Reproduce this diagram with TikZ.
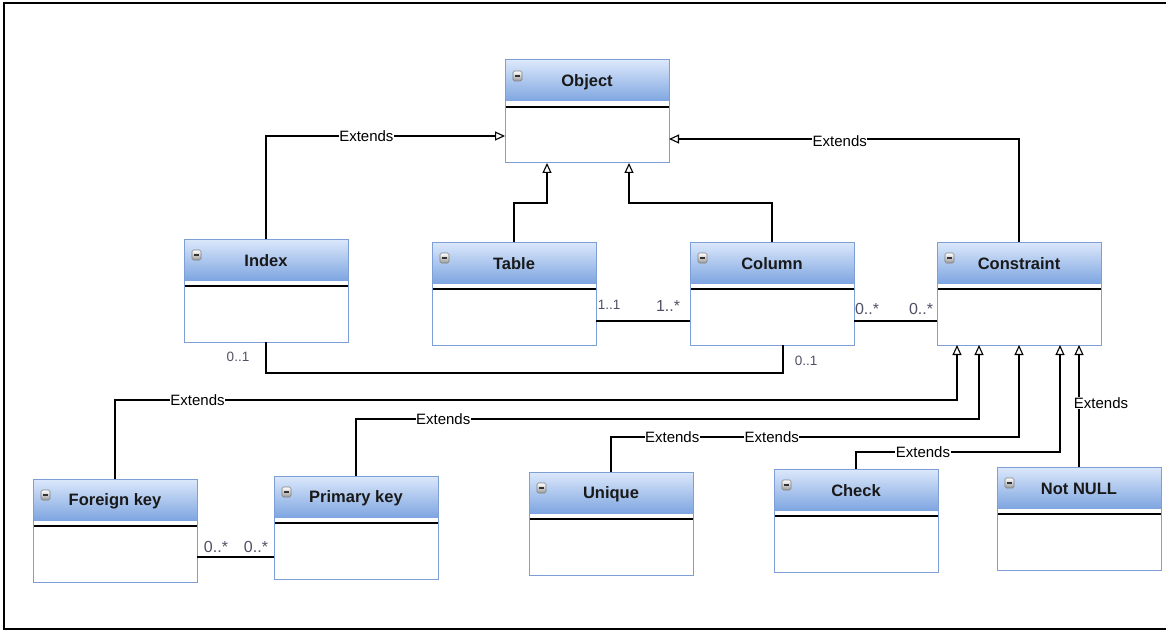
\documentclass[tikz,border=0pt]{standalone}
\usepackage{fontspec}
\setmainfont{Liberation Sans}
\usetikzlibrary{arrows.meta,calc}

\definecolor{headtop}{HTML}{DCE8FB}
\definecolor{headbot}{HTML}{7FA6E1}
\definecolor{boxblue}{HTML}{7E9FD6}
\definecolor{multgray}{HTML}{505064}

% one class box: name, left, top, title
\newcommand{\umlclass}[4]{%
  \shade[top color=headtop, bottom color=headbot] (#2,#3) rectangle ++(164,41);
  \draw[line width=1.5pt] (#2,#3+47) -- ++(164,0);
  \shadedraw[minusbox] (#2+8,#3+11) rectangle ++(9,10);
  \draw[line width=1.6pt, black!80] (#2+10,#3+16) -- ++(5,0);
  \node[classbox] (#1) at (#2,#3) {};
  \node[classtitle] (#1-t) at (#2+82,#3+22) {#4};
}

\begin{document}
\begin{tikzpicture}[x=1pt, y=-1pt,
    classbox/.style={draw=boxblue, line width=1pt, anchor=north west, minimum width=164pt, minimum height=103pt, inner sep=0pt, outer sep=0pt},
    classtitle/.style={font=\fontsize{16.5}{19}\selectfont\bfseries, text=black!90, inner sep=0pt},
    minusbox/.style={top color=white, bottom color=black!40, draw=black!50, line width=0.6pt, rounded corners=1.5pt},
    ext/.style={line width=1.1pt, -{Triangle[open, length=10pt, width=9pt]}},
    assoc/.style={line width=1.1pt},
    extlbl/.style={font=\fontsize{15}{18}\selectfont, fill=white, inner sep=0.5pt},
    mult/.style={font=\fontsize{16}{19}\selectfont, text=multgray, inner sep=0pt},
    multsm/.style={font=\fontsize{13.5}{16}\selectfont, text=multgray, inner sep=0pt}]
    \useasboundingbox (0,0) rectangle (1166,631);
    \draw[line width=2.5pt] (1166,3) -- (4,3) -- (4,629) -- (1166,629);

    \umlclass{object}{505}{60}{Object}
    \umlclass{index}{184}{239}{Index}
    \umlclass{table}{432}{242}{Table}
    \umlclass{column}{690}{242}{Column}
    \umlclass{constraint}{937}{242}{Constraint}
    \umlclass{fkey}{33}{479}{Foreign key}
    \umlclass{pkey}{274}{476}{Primary key}
    \umlclass{unique}{529}{472}{Unique}
    \umlclass{check}{774}{469}{Check}
    \umlclass{notnull}{997}{467}{Not NULL}

    % extends Object
    \draw[ext] (index.north) |- ($(object.north west)+(0,76)$) node[extlbl, pos=0.71] {Extends};
    \draw[ext] (constraint.north) |- ($(object.north east)+(0,79)$) node[extlbl, pos=0.756, yshift=-2pt] {Extends};
    \draw[ext] (table.north) -- ++(0,-39) -| ($(object.south west)+(42,0)$);
    \draw[ext] (column.north) -- ++(0,-39) -| ($(object.south west)+(124,0)$);

    % associations
    \draw[assoc] ($(table.north east)+(0,79)$) -- ($(column.north west)+(0,79)$)
        node[multsm, pos=0, xshift=13pt, yshift=16pt] {1..1}
        node[mult, pos=1, xshift=-22pt, yshift=15pt] {1..*};
    \draw[assoc] ($(column.north east)+(0,79)$) -- ($(constraint.north west)+(0,79)$)
        node[mult, pos=0, xshift=13pt, yshift=12pt] {0..*}
        node[mult, pos=1, xshift=-16pt, yshift=12pt] {0..*};
    \draw[assoc] (index.south) |- ($(column.south west)+(93,28)$)
        node[multsm, pos=0, xshift=-28pt, yshift=-15pt] {0..1}
        -- ($(column.south west)+(93,0)$)
        node[multsm, pos=1, xshift=23pt, yshift=-16pt] {0..1};
    \draw[assoc] ($(fkey.north east)+(0,78)$) coordinate (fkpk) -- (fkpk -| pkey.west)
        node[mult, pos=0, xshift=19pt, yshift=10pt] {0..*}
        node[mult, pos=1, xshift=-18pt, yshift=10pt] {0..*};

    % extends Constraint
    \draw[ext] (fkey.north) |- ($(constraint.south west)+(20,55)$) node[extlbl, pos=0.549] {Extends}
        -- ($(constraint.south west)+(20,0)$);
    \draw[ext] (pkey.north) |- ($(constraint.south west)+(42,74)$) node[extlbl, pos=0.57] {Extends}
        -- ($(constraint.south west)+(42,0)$);
    \draw[ext] (unique.north) |- ($(constraint.south west)+(82,92)$) node[extlbl, pos=0.575] {Extends}
        node[extlbl, pos=0.697] {Extends} -- ($(constraint.south west)+(82,0)$);
    \draw[ext] (check.north) |- ($(constraint.south west)+(123,107)$) node[extlbl, pos=0.664] {Extends}
        -- ($(constraint.south west)+(123,0)$);
    \draw[ext] (notnull.north) -- (notnull.north |- constraint.south) node[extlbl, pos=0.525, xshift=22pt] {Extends};
\end{tikzpicture}
\end{document}
